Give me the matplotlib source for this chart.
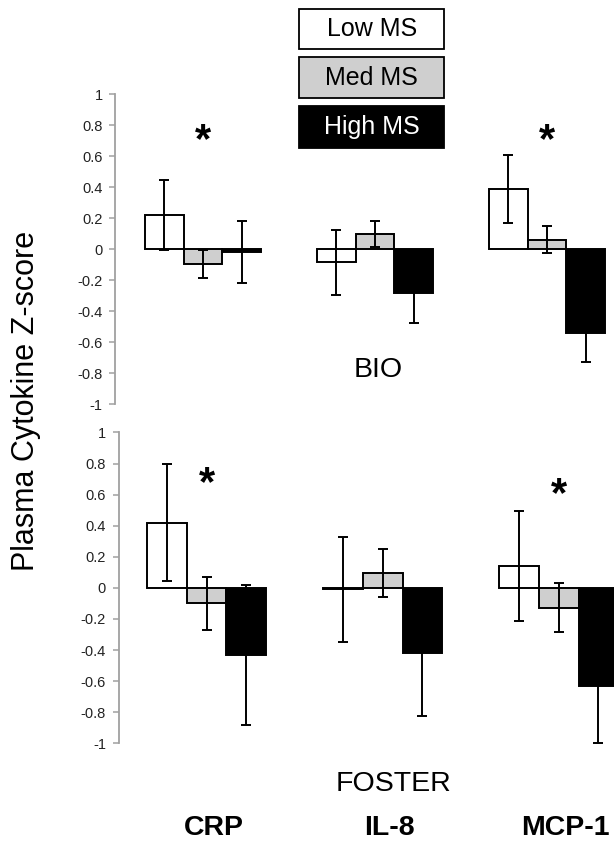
import matplotlib
matplotlib.use('Agg')
import matplotlib.pyplot as plt
from matplotlib.patches import Rectangle
import matplotlib.transforms as mtransforms

plt.rcParams['font.family'] = ['Liberation Sans', 'DejaVu Sans']

cytokines = ['CRP', 'IL-8', 'MCP-1']
groups = ['Low MS', 'Med MS', 'High MS']
colors = ['white', '#cfcfcf', 'black']

# BIO panel (top)
bio_low = [0.22, -0.085, 0.39]
bio_med = [-0.095, 0.097, 0.062]
bio_high = [-0.02, -0.286, -0.54]
bio_low_err = [0.225, 0.21, 0.22]
bio_med_err = [0.092, 0.083, 0.09]
bio_high_err = [0.2, 0.19, 0.19]
bio_stars = [(0, 0.70), (2, 0.70)]

# FOSTER panel (bottom)
fos_low = [0.42, -0.01, 0.14]
fos_med = [-0.10, 0.096, -0.127]
fos_high = [-0.43, -0.42, -0.633]
fos_low_err = [0.375, 0.335, 0.355]
fos_med_err = [0.17, 0.155, 0.16]
fos_high_err = [0.45, 0.405, 0.365]
fos_stars = [(0, 0.67), (2, 0.595)]

W, H = 614, 843
fig = plt.figure(figsize=(W / 100, H / 100), dpi=100)

ax1 = fig.add_axes([115 / W, 1 - 404 / H, (W - 115) / W, (404 - 94.3) / H])
ax2 = fig.add_axes([118.5 / W, 1 - 743.3 / H, (W - 118.5) / W, (743.3 - 432.5) / H])

bw = 0.225
ticks = [-1, -0.8, -0.6, -0.4, -0.2, 0, 0.2, 0.4, 0.6, 0.8, 1]
tick_labels = ['-1', '-0.8', '-0.6', '-0.4', '-0.2', '0', '0.2', '0.4', '0.6', '0.8', '1']


def draw_panel(ax, vals, errs, stars, xlim):
    for k, (v, e) in enumerate(zip(vals, errs)):
        xs = [i + (k - 1) * bw for i in range(len(cytokines))]
        ax.bar(xs, v, width=bw, color=colors[k], edgecolor='black',
               linewidth=1.4, zorder=2)
        ax.errorbar(xs, v, yerr=e, fmt='none', ecolor='black',
                    elinewidth=1.4, capsize=3.6, capthick=1.4, zorder=3)
    for ci, sy in stars:
        ax.text(ci, sy, '*', ha='center', va='center', fontsize=30,
                fontweight='bold', zorder=4)
    ax.set_xlim(*xlim)
    ax.set_ylim(-1, 1)
    ax.set_yticks(ticks)
    ax.set_yticklabels(tick_labels, fontsize=10.5, color='#222222')
    ax.set_xticks([])
    for s in ['top', 'right', 'bottom']:
        ax.spines[s].set_visible(False)
    ax.spines['left'].set_color('#a0a0a0')
    ax.spines['left'].set_linewidth(1.3)
    ax.tick_params(axis='y', length=4, width=1.1, color='#a0a0a0', pad=5)
    ax.patch.set_alpha(0)


draw_panel(ax1, [bio_low, bio_med, bio_high],
           [bio_low_err, bio_med_err, bio_high_err],
           bio_stars, (-0.512, 2.39))
draw_panel(ax2, [fos_low, fos_med, fos_high],
           [fos_low_err, fos_med_err, fos_high_err],
           fos_stars, (-0.501, 2.314))

ax1.text(1.02, -0.78, 'BIO', ha='center', va='center', fontsize=20.5)
ax2.text(1.06, -1.26, 'FOSTER', ha='center', va='center', fontsize=20.5,
         clip_on=False)

# category labels under bottom panel
trans = mtransforms.blended_transform_factory(ax2.transData, fig.transFigure)
for i, c in enumerate(cytokines):
    ax2.text(i + 0.04, 1 - 828 / H, c, transform=trans, ha='center',
             va='center', fontsize=20.5, fontweight='bold', clip_on=False)

fig.text(26 / W, 1 - 401 / H, 'Plasma Cytokine Z-score', rotation=90,
         ha='center', va='center', fontsize=22)

# legend boxes
legend_boxes = [(9, 49.3), (57.3, 98.3), (106, 148.3)]
text_colors = ['black', 'black', 'white']
for (y0, y1), g, col, tc in zip(legend_boxes, groups, colors, text_colors):
    fig.patches.append(Rectangle((299.3 / W, 1 - y1 / H), (444 - 299.3) / W,
                                 (y1 - y0) / H, transform=fig.transFigure,
                                 facecolor=col, edgecolor='black',
                                 linewidth=1.3))
    fig.text((299.3 + 444) / 2 / W, 1 - (y0 + y1) / 2 / H, g, ha='center',
             va='center', fontsize=18, color=tc)

fig.savefig('out.png', dpi=100)
